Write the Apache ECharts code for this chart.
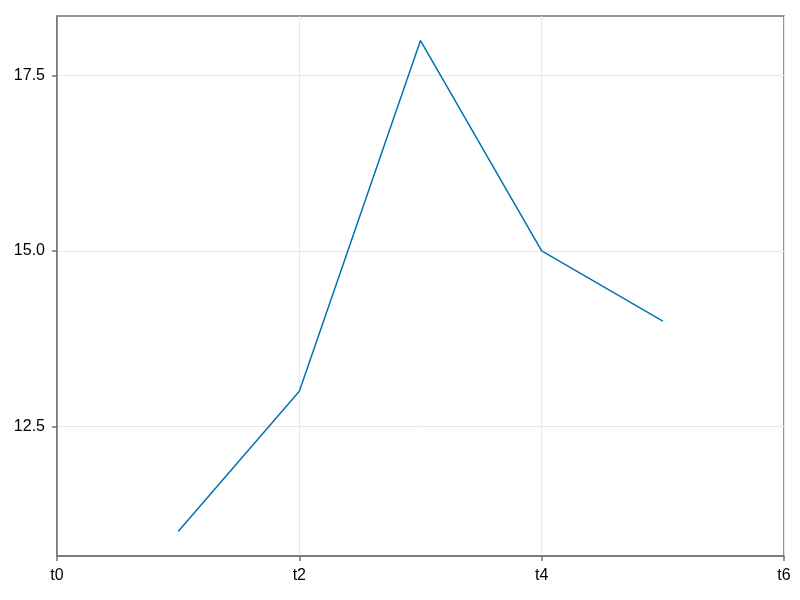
<!DOCTYPE html>
<html>
<head>
<meta charset="utf-8">
<script src="https://cdn.jsdelivr.net/npm/echarts@6/dist/echarts.min.js"></script>
<style>html,body{margin:0;padding:0;background:#fff}#c{width:800px;height:600px}</style>
</head>
<body>
<div id="c"></div>
<script>
const xValues = [1, 2, 3, 4, 5];
const yValues = [11, 13, 18, 15, 14];
const xTicks = [0, 2, 4, 6];
const xTickLabels = ['t0', 't2', 't4', 't6'];
const yTicks = [12.5, 15.0, 17.5];
const yTickLabels = ['12.5', '15.0', '17.5'];

const chart = echarts.init(document.getElementById('c'));
const axisColor = '#737373';
const font = '"Liberation Sans", Arial, sans-serif';
chart.setOption({
  animation: false,
  backgroundColor: '#ffffff',
  grid: { left: 57, right: 16, top: 16, bottom: 44, show: true, borderColor: axisColor, borderWidth: 1.5, containLabel: false },
  xAxis: {
    type: 'value', min: 0, max: 6,
    axisLine: { show: true, lineStyle: { color: axisColor, width: 1.5 } },
    axisTick: { show: true, inside: false, length: 5, customValues: xTicks, lineStyle: { color: axisColor, width: 1.5 } },
    axisLabel: { customValues: xTicks, margin: 12, color: '#000', fontSize: 16, fontFamily: font,
      formatter: v => xTickLabels[xTicks.indexOf(v)] },
    splitLine: { show: true, lineStyle: { color: '#e8e8e8', width: 1 } }
  },
  yAxis: {
    type: 'value', min: 10.65, max: 18.35,
    axisLine: { show: true, lineStyle: { color: axisColor, width: 1.5 } },
    axisTick: { show: true, inside: false, length: 5, customValues: yTicks, lineStyle: { color: axisColor, width: 1.5 } },
    axisLabel: { customValues: yTicks, margin: 12, color: '#000', fontSize: 16, fontFamily: font,
      formatter: v => yTickLabels[yTicks.indexOf(v)] },
    splitLine: { show: true, lineStyle: { color: '#e8e8e8', width: 1 } }
  },
  series: [{
    type: 'line',
    data: xValues.map((x, i) => [x, yValues[i]]),
    showSymbol: false,
    symbol: 'none',
    lineStyle: { color: '#0072B2', width: 1.5 },
    itemStyle: { color: '#0072B2' }
  }]
});
</script>
</body>
</html>
